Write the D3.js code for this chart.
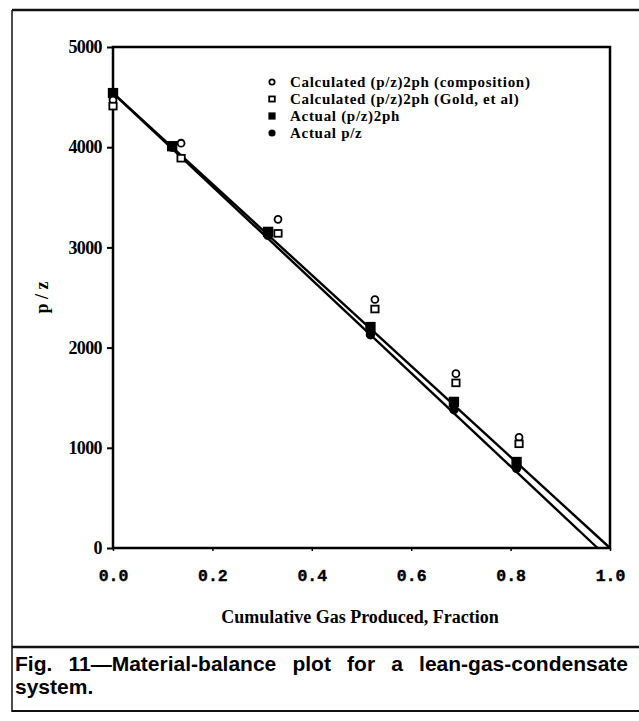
<!DOCTYPE html>
<html>
<head>
<meta charset="utf-8">
<script src="https://cdn.jsdelivr.net/npm/d3@7"></script>
<style>
  body { margin: 0; background: #fff; }
  #main { position: relative; width: 639px; height: 721px; }
  svg { display: block; position: absolute; left: 0; top: 0; }
  .caption {
    position: absolute; left: 15px; width: 613px;
    font-family: 'Liberation Sans', Arial, sans-serif; font-weight: bold;
    font-size: 21px; line-height: 23px; white-space: nowrap;
  }
  .justify { text-align: justify; text-align-last: justify; }
</style>
</head>
<body>
<div id="main"></div>
<script>
// data
const actualX = [0, 0.119, 0.312, 0.518, 0.686, 0.812]
const actual2ph = [4540, 4010, 3155, 2205, 1458, 858]
const actualPz = [4540, 4000, 3120, 2128, 1380, 795]
const calcX = [0, 0.137, 0.332, 0.527, 0.690, 0.817]
const calcComp = [4470, 4040, 3280, 2480, 1740, 1105]
const calcGold = [4410, 3890, 3140, 2385, 1648, 1040]
const line2ph = [[0, 4540], [1.0, 0]]
const linePz = [[0, 4540], [0.975, 0]]
const xTicks = [0, 0.2, 0.4, 0.6, 0.8, 1.0]
const yTicks = [0, 1000, 2000, 3000, 4000, 5000]
const legendLabels = [
  'Calculated (p/z)2ph (composition)',
  'Calculated (p/z)2ph (Gold, et al)',
  'Actual (p/z)2ph',
  'Actual p/z'
]
const legendSymbols = ['openCircle', 'openSquare', 'filledSquare', 'filledCircle']
const captionLines = ['Fig. 11\u2014Material-balance plot for a lean-gas-condensate', 'system.']

const W = 639
const H = 721
const margin = { top: 47, bottom: 173, left: 113, right: 29 }

const main = d3.select('#main')
const svg = main.append('svg').attr('width', W).attr('height', H)

// outer frame of the figure
const frame = svg.append('g').attr('stroke', '#111').attr('fill', 'none')
frame.append('line').attr('x1', 12).attr('x2', W).attr('y1', 10).attr('y2', 10).attr('stroke-width', 2.5)
frame.append('line').attr('x1', 12).attr('x2', 12).attr('y1', 10).attr('y2', 712).attr('stroke-width', 1.5)
frame.append('line').attr('x1', 12).attr('x2', W).attr('y1', 647).attr('y2', 647).attr('stroke-width', 2.5)
frame.append('line').attr('x1', 12).attr('x2', W).attr('y1', 711).attr('y2', 711).attr('stroke-width', 2)

const x = d3.scaleLinear().domain([0, 1]).range([margin.left, W - margin.right])
const y = d3.scaleLinear().domain([0, 5000]).range([H - margin.bottom, margin.top])

// plot box
svg.append('rect')
  .attr('x', x(0)).attr('y', y(5000))
  .attr('width', x(1) - x(0)).attr('height', y(0) - y(5000))
  .attr('fill', 'none').attr('stroke', '#000').attr('stroke-width', 2.5)

const yAxis = d3.axisLeft(y).tickValues(yTicks).tickSize(6).tickPadding(5).tickFormat(d3.format('d'))
svg.append('g')
  .attr('transform', `translate(${x(0)}, 0)`)
  .call(yAxis)
  .call(g => g.select('.domain').remove())
  .call(g => g.selectAll('line').attr('stroke-width', 2))
  .call(g => g.selectAll('text')
    .attr('font-family', "'Liberation Serif', serif")
    .attr('font-weight', 'bold')
    .attr('font-size', 18).attr('fill', '#000').attr('letter-spacing', -0.6))

const xAxis = d3.axisBottom(x).tickValues(xTicks).tickSize(3).tickPadding(18).tickFormat(d3.format('.1f'))
svg.append('g')
  .attr('transform', `translate(0, ${y(0)})`)
  .call(xAxis)
  .call(g => g.select('.domain').remove())
  .call(g => g.selectAll('line').attr('stroke-width', 1.5))
  .call(g => g.selectAll('text')
    .attr('font-family', "'Liberation Mono', monospace")
    .attr('font-weight', 'bold')
    .attr('font-size', 16.5).attr('fill', '#000')
    .attr('stroke', '#000').attr('stroke-width', 0.4))

// axis titles
svg.append('text')
  .attr('transform', `translate(48, ${y(2500)}) rotate(-90)`)
  .attr('text-anchor', 'middle')
  .attr('font-family', "'Liberation Serif', serif")
  .attr('font-weight', 'bold')
  .attr('font-size', 18)
  .text('p / z')

svg.append('text')
  .attr('x', 360).attr('y', 623)
  .attr('text-anchor', 'middle')
  .attr('font-family', "'Liberation Serif', serif")
  .attr('font-weight', 'bold')
  .attr('font-size', 18)
  .text('Cumulative Gas Produced, Fraction')

// fitted lines
const lineGen = d3.line().x(d => x(d[0])).y(d => y(d[1]))
const gLines = svg.append('g').attr('fill', 'none').attr('stroke', '#000').attr('stroke-width', 2.4)
gLines.append('path').attr('d', lineGen(line2ph))
gLines.append('path').attr('d', lineGen(linePz))

// markers
function drawSymbol (g, kind, cx, cy, s) {
  if (kind === 'openCircle') {
    g.append('circle').attr('cx', cx).attr('cy', cy).attr('r', 3.3 * s)
      .attr('fill', '#fff').attr('stroke', '#000').attr('stroke-width', 1.8)
  } else if (kind === 'openSquare') {
    g.append('rect').attr('x', cx - 3.5 * s).attr('y', cy - 3.2 * s)
      .attr('width', 7 * s).attr('height', 6.4 * s)
      .attr('fill', '#fff').attr('stroke', '#000').attr('stroke-width', 1.8)
  } else if (kind === 'filledSquare') {
    g.append('rect').attr('x', cx - 4.5 * s).attr('y', cy - 4.5 * s)
      .attr('width', 9 * s).attr('height', 9 * s).attr('fill', '#000')
  } else {
    g.append('circle').attr('cx', cx).attr('cy', cy).attr('r', 4.5 * s).attr('fill', '#000')
  }
}

const gPts = svg.append('g')
actualX.forEach((v, i) => drawSymbol(gPts, 'filledCircle', x(v), y(actualPz[i]), 1.05))
actualX.forEach((v, i) => drawSymbol(gPts, 'filledSquare', x(v), y(actual2ph[i]), 1.15))
calcX.forEach((v, i) => drawSymbol(gPts, 'openCircle', x(v), y(calcComp[i]), 1.05))
calcX.forEach((v, i) => drawSymbol(gPts, 'openSquare', x(v), y(calcGold[i]), 1.05))

// legend
const legend = svg.append('g').attr('transform', 'translate(272, 82)')
legendLabels.forEach((lab, i) => {
  const row = legend.append('g').attr('transform', `translate(0, ${i * 17})`)
  drawSymbol(row, legendSymbols[i], 0, 0, 0.8)
  row.append('text')
    .attr('x', 18).attr('y', 5)
    .attr('font-family', "'Liberation Serif', serif")
    .attr('font-weight', 'bold')
    .attr('font-size', 15)
    .attr('letter-spacing', 0.7)
    .text(lab)
})

// caption
main.append('div').attr('class', 'caption justify').style('top', '652px').text(captionLines[0])
main.append('div').attr('class', 'caption').style('top', '675px').text(captionLines[1])
</script>
</body>
</html>
